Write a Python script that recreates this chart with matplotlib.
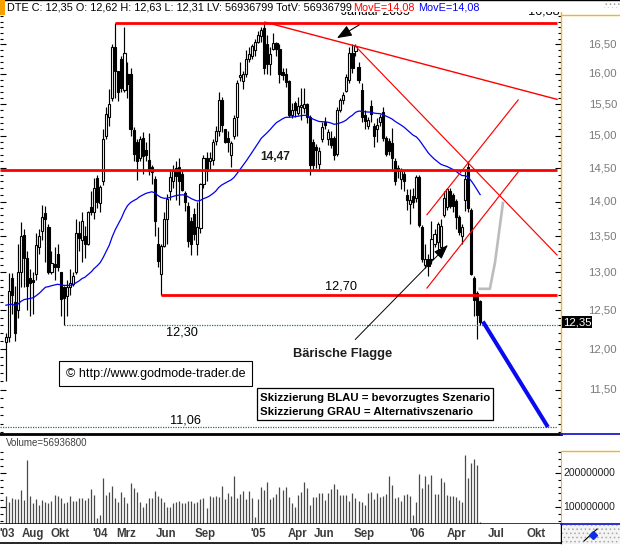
import numpy as np
import pandas as pd
import matplotlib
matplotlib.use("Agg")
import matplotlib.pyplot as plt
import matplotlib.transforms as mtrans
from matplotlib.patches import Rectangle
from matplotlib.lines import Line2D
from matplotlib.ticker import FixedLocator, NullFormatter

plt.rcParams["font.family"] = ["Liberation Sans", "DejaVu Sans"]
plt.rcParams["hatch.linewidth"] = 0.6

# ---------------- data: DTE weekly candles ----------------
first_week = "2003-05-30"

opens = [12.09, 12.15, 12.92, 12.60, 12.50, 13.00, 13.52, 13.20, 12.92, 12.90,
         12.98, 13.35, 13.57, 13.83, 13.64, 13.00, 13.12, 13.25, 13.00, 12.80,
         12.68, 12.80, 12.85, 13.00, 13.55, 13.45, 13.50, 13.40, 13.92, 13.85,
         14.35, 13.98, 14.30, 15.00, 15.30, 15.60, 16.45, 16.05, 16.25, 15.73,
         16.00, 16.00, 15.09, 14.90, 14.65, 14.96, 14.78, 14.63, 14.52, 14.33,
         13.40, 12.98, 13.37, 13.75, 14.16, 14.30, 14.50, 14.52, 14.41, 14.13,
         13.94, 13.72, 13.82, 13.40, 13.62, 14.26, 14.66, 14.60, 14.62, 14.92,
         15.07, 15.57, 15.10, 14.97, 14.70, 15.00, 15.30, 15.95, 15.88, 16.00,
         16.25, 16.30, 16.40, 16.55, 16.64, 16.78, 16.50, 16.17, 16.43, 16.52,
         16.43, 16.03, 16.00, 15.89, 15.33, 15.52, 15.36, 15.46, 15.44, 15.50,
         15.30, 14.90, 14.83, 14.56, 14.94, 15.22, 14.94, 14.97, 14.97, 14.72,
         15.41, 15.57, 15.72, 15.90, 16.36, 16.38, 16.12, 15.73, 15.33, 15.15,
         15.48, 15.15, 15.10, 15.22, 15.38, 14.96, 14.92, 14.89, 14.60, 14.50,
         14.33, 14.41, 14.10, 13.97, 14.08, 14.06, 14.37, 13.64, 13.10, 13.19,
         13.19, 13.40, 13.42, 13.35, 13.80, 13.92, 14.16, 14.10, 14.01, 13.77,
         13.50, 14.02, 14.52, 13.88, 12.93, 12.73, 12.62]
highs = [12.20, 12.99, 12.99, 12.82, 13.40, 13.70, 13.60, 13.30, 13.05, 13.00,
         13.55, 13.60, 13.95, 13.93, 13.68, 13.30, 13.35, 13.40, 13.00, 12.82,
         12.90, 13.05, 13.00, 13.75, 13.72, 13.85, 13.65, 13.87, 14.15, 14.35,
         14.40, 14.25, 15.10, 15.45, 15.75, 16.50, 16.88, 16.05, 16.30, 16.80,
         16.20, 16.10, 15.14, 14.95, 15.00, 15.05, 14.90, 15.04, 14.55, 14.38,
         13.64, 13.40, 13.85, 14.11, 14.45, 14.55, 14.60, 14.65, 14.45, 14.16,
         14.00, 13.78, 13.90, 14.00, 14.28, 14.70, 14.75, 14.75, 14.95, 15.15,
         15.70, 15.62, 15.10, 15.07, 14.92, 15.32, 15.90, 16.20, 16.05, 16.40,
         16.45, 16.50, 16.60, 16.74, 16.80, 16.88, 16.66, 16.45, 16.70, 16.55,
         16.50, 16.10, 16.10, 15.90, 15.52, 15.56, 15.62, 15.76, 15.77, 15.52,
         15.33, 14.95, 14.87, 14.82, 15.22, 15.30, 15.10, 15.07, 14.99, 15.45,
         15.60, 15.70, 16.00, 16.45, 16.50, 16.50, 16.20, 15.85, 15.40, 15.30,
         15.57, 15.20, 15.28, 15.35, 15.45, 15.00, 14.97, 15.12, 14.65, 14.55,
         14.50, 14.45, 14.18, 14.18, 14.20, 14.40, 14.40, 13.66, 13.40, 13.26,
         13.72, 13.60, 13.70, 13.75, 14.16, 14.20, 14.20, 14.12, 14.04, 13.80,
         13.68, 14.45, 14.60, 13.90, 12.95, 12.75, 12.63]
lows = [11.60, 12.09, 12.45, 12.10, 12.40, 12.80, 12.80, 12.50, 12.42, 12.45,
        12.90, 13.25, 13.45, 13.15, 12.98, 12.98, 12.90, 13.02, 12.42, 12.30,
        12.42, 12.70, 12.82, 12.98, 13.30, 13.15, 13.20, 13.38, 13.80, 13.75,
        13.90, 13.85, 14.25, 14.95, 15.15, 15.55, 15.60, 15.55, 15.70, 15.70,
        15.60, 15.00, 14.60, 14.32, 14.60, 14.41, 14.60, 14.40, 14.26, 13.50,
        13.08, 12.70, 13.35, 13.40, 14.02, 14.20, 14.02, 13.95, 14.15, 13.87,
        13.35, 13.24, 13.45, 13.24, 13.55, 14.20, 14.30, 14.45, 14.55, 14.85,
        15.00, 15.05, 14.88, 14.75, 14.52, 14.95, 15.00, 15.88, 15.75, 15.95,
        16.20, 16.25, 16.30, 16.52, 16.55, 16.00, 16.00, 15.98, 16.40, 16.30,
        15.85, 15.90, 15.78, 15.30, 15.28, 15.30, 15.33, 15.25, 15.36, 15.20,
        14.40, 14.47, 14.50, 14.45, 14.90, 15.10, 14.85, 14.80, 14.63, 14.68,
        15.38, 15.50, 15.70, 15.85, 16.02, 16.30, 15.85, 15.22, 15.10, 15.10,
        15.22, 14.82, 14.90, 15.15, 14.92, 14.68, 14.70, 14.45, 14.25, 14.35,
        14.18, 14.15, 13.88, 13.68, 13.90, 14.00, 13.63, 13.14, 13.06, 12.95,
        13.12, 13.35, 13.30, 13.30, 13.78, 13.88, 13.90, 13.85, 13.60, 13.52,
        13.40, 13.87, 13.85, 12.96, 12.42, 12.13, 12.31]
closes = [12.15, 12.75, 12.70, 12.20, 13.00, 13.50, 13.20, 12.82, 12.86, 12.87,
          13.38, 13.50, 13.77, 13.75, 13.00, 13.13, 13.07, 13.07, 12.65, 12.66,
          12.80, 12.86, 12.95, 13.55, 13.48, 13.72, 13.40, 13.85, 13.85, 14.20,
          14.00, 14.22, 14.95, 15.35, 15.50, 16.45, 16.05, 15.70, 15.77, 16.36,
          15.83, 15.10, 14.71, 14.60, 14.94, 14.68, 14.70, 14.45, 14.44, 13.72,
          13.16, 13.36, 13.75, 14.04, 14.36, 14.45, 14.38, 14.30, 14.17, 14.00,
          13.44, 13.40, 13.54, 13.64, 14.26, 14.66, 14.45, 14.65, 14.90, 15.07,
          15.57, 15.17, 14.90, 14.90, 14.88, 15.28, 15.85, 15.99, 16.00, 16.25,
          16.33, 16.48, 16.54, 16.66, 16.75, 16.10, 16.17, 16.34, 16.53, 16.43,
          16.00, 15.98, 15.86, 15.33, 15.41, 15.40, 15.48, 15.49, 15.51, 15.30,
          14.55, 14.55, 14.77, 14.76, 15.14, 15.16, 15.06, 14.86, 14.70, 15.41,
          15.57, 15.65, 15.95, 16.36, 16.10, 16.48, 15.90, 15.30, 15.23, 15.24,
          15.35, 15.00, 15.17, 15.30, 14.96, 14.72, 14.76, 14.65, 14.30, 14.45,
          14.45, 14.30, 14.03, 14.02, 14.00, 14.37, 13.66, 13.18, 13.19, 13.09,
          13.47, 13.54, 13.68, 13.65, 14.06, 14.18, 13.93, 13.93, 13.78, 13.56,
          13.64, 14.33, 13.90, 12.98, 12.63, 12.44, 12.35]
# weekly volume in millions of shares
volume_mio = [133, 116, 126, 124, 124, 150, 121, 237, 133, 112,
              124, 107, 121, 116, 113, 119, 136, 133, 128, 113,
              114, 133, 118, 118, 126, 126, 121, 126, 152, 136,
              68, 78, 184, 136, 145, 162, 126, 116, 143, 131,
              113, 169, 155, 145, 116, 102, 112, 126, 128, 147,
              133, 126, 116, 102, 100, 112, 116, 119, 112, 113,
              119, 119, 112, 114, 123, 126, 97, 133, 131, 133,
              131, 162, 123, 140, 133, 189, 126, 138, 147, 123,
              147, 126, 71, 124, 160, 150, 172, 124, 131, 138,
              160, 150, 158, 131, 113, 100, 136, 145, 172, 155,
              107, 131, 131, 140, 140, 121, 140, 152, 166, 152,
              136, 136, 136, 119, 142, 126, 119, 116, 107, 142,
              145, 123, 140, 131, 134, 138, 189, 164, 126, 131,
              119, 136, 138, 134, 78, 116, 195, 155, 189, 167,
              193, 138, 138, 184, 174, 136, 134, 134, 131, 121,
              116, 251, 184, 227, 239, 222, 56.94]

# exponential moving average (MovE)
ema_span = 50
ema_seed = 12.58

# marked price levels
level_top = 16.88
level_resist = 14.47
level_flag = 12.70
level_low = 12.30
level_target = 11.06

# trend lines as (week number, price)
trend_long = [(85.2, 16.89), (181.3, 15.58)]
trend_steep = [(114.8, 16.48), (181.3, 13.24)]
flag_upper = [(138.5, 13.81), (168.5, 15.57)]
flag_lower = [(138.5, 12.79), (168.5, 14.44)]
# scenario sketches as (weeks after last candle, price)
scenario_blue = [(0.9, 12.35), (22.3, 11.06)]
scenario_gray = [(-0.1, 12.78), (3.2, 12.78), (4.9, 13.14), (7.5, 13.98)]

month_ticks = ["2003-06-01", "2003-08-01", "2003-10-01", "2004-01-01", "2004-03-01",
               "2004-06-01", "2004-09-01", "2005-01-01", "2005-04-01", "2005-06-01",
               "2005-09-01", "2006-01-01", "2006-04-01", "2006-07-01", "2006-10-01"]
month_labels = ["'03", "Aug", "Okt", "'04", "Mrz", "Jun", "Sep", "'05", "Apr", "Jun",
                "Sep", "'06", "Apr", "Jul", "Okt"]
price_ticks = [11.5, 12.0, 12.5, 13.0, 13.5, 14.0, 14.5, 15.0, 15.5, 16.0, 16.5]
volume_ticks = [100, 200]

header_text = "DTE C: 12,35 O: 12,62 H: 12,63 L: 12,31 LV: 56936799 TotV: 56936799"
header_ma = "MovE=14,08"
volume_text = "Volume=56936800"
last_close_text = "12,35"

# ---------------- layout helpers (pixel coordinates, origin top-left) ----------------
W, H = 620, 545
fig = plt.figure(figsize=(W / 100, H / 100), dpi=100)
fig.patch.set_facecolor("white")


def fx(x):
    return x / W


def fy(y):
    return 1 - y / H


def fp(x, y):
    return (fx(x), fy(y))


n = len(closes)
idx = np.arange(n)
o = np.array(opens)
c = np.array(closes)
week0 = pd.Timestamp(first_week)


def week_pos(d):
    return (pd.Timestamp(d) - week0).days / 7.0


XL = (-1.94, 182.6)
YL = (10.98, 17.07)
ORANGE = "#f0b428"
RED = "#ff0000"

# ---------------- price panel ----------------
ax = fig.add_axes([0, fy(434), fx(561), (434 - 12) / H])
ax.set_yscale("log")
ax.set_ylim(*YL)
ax.set_xlim(*XL)
ax.set_xticks([])

body_col = ["white" if cc >= oo else "black" for oo, cc in zip(o, c)]
ax.vlines(idx, lows, highs, color="black", lw=0.85, zorder=2)
ax.bar(idx, np.abs(c - o), bottom=np.minimum(o, c), width=0.7, color=body_col,
       edgecolor="black", linewidth=0.8, zorder=3)

alpha = 2.0 / (ema_span + 1)
ema = np.empty(n)
prev = ema_seed
for i, v in enumerate(c):
    prev = prev + alpha * (v - prev)
    ema[i] = prev
ax.plot(idx, ema, color="#0000f0", lw=0.9, zorder=4)

# labels at the panel top, half hidden under the header bar
ax.text(121.7, YL[1], "Januar 2005", ha="center", va="center", fontsize=8.9,
        color="black", clip_on=True, zorder=9)
ax.text(182.2, YL[1], "16,88", ha="right", va="center", fontsize=9.2,
        color="black", clip_on=True, zorder=9)

x_end = 181.3
ax.plot([36, x_end], [level_top] * 2, color=RED, lw=2.0, zorder=6, solid_capstyle="butt")
ax.plot([XL[0], x_end], [level_resist] * 2, color=RED, lw=2.0, zorder=6, solid_capstyle="butt")
ax.plot([51, x_end], [level_flag] * 2, color=RED, lw=2.0, zorder=6, solid_capstyle="butt")
ax.plot([19, x_end], [level_low] * 2, color="#207070", lw=0.9, ls=(0, (1, 1)), zorder=5)
ax.plot([XL[0], x_end], [level_target] * 2, color="#207070", lw=0.9, ls=(0, (1, 1)), zorder=5)

for seg, lw in ((trend_long, 1.0), (trend_steep, 0.85), (flag_upper, 0.85), (flag_lower, 0.85)):
    ax.plot([p[0] for p in seg], [p[1] for p in seg], color=RED, lw=lw, zorder=6)

last = idx[-1]
ax.plot([last + p[0] for p in scenario_gray], [p[1] for p in scenario_gray],
        color="#bcbcbc", lw=1.9, zorder=6, solid_joinstyle="round")
ax.plot([last + p[0] for p in scenario_blue], [p[1] for p in scenario_blue],
        color="#0a0af0", lw=2.9, zorder=7, solid_capstyle="butt")

ax.annotate("", xy=(108.9, 16.61), xytext=(116.2, 16.84),
            arrowprops=dict(arrowstyle="-|>,head_length=0.9,head_width=0.35",
                            color="black", lw=0.8, shrinkA=0, shrinkB=0), zorder=8)
ax.annotate("", xy=(145.4, 13.38), xytext=(114.9, 12.12),
            arrowprops=dict(arrowstyle="-|>,head_length=0.9,head_width=0.32",
                            color="black", lw=0.7, shrinkA=0, shrinkB=0), zorder=8)

minor_prices = [round(v, 1) for v in np.arange(11.0, 17.05, 0.1) if round(v, 1) not in price_ticks]
ax.yaxis.set_major_locator(FixedLocator(price_ticks))
ax.yaxis.set_minor_locator(FixedLocator(minor_prices))
ax.yaxis.set_major_formatter(NullFormatter())
ax.yaxis.set_minor_formatter(NullFormatter())
ax.tick_params(axis="y", which="both", direction="in", left=True, right=True,
               labelleft=False, labelright=False, color="black", width=0.8)
ax.tick_params(axis="y", which="major", length=4)
ax.tick_params(axis="y", which="minor", length=2.5)
ax.tick_params(axis="x", which="both", bottom=False, top=False)
for s in ("top", "left"):
    ax.spines[s].set_visible(False)
ax.spines["right"].set_color(ORANGE)
ax.spines["right"].set_linewidth(1.0)
ax.spines["bottom"].set_color("black")
ax.spines["bottom"].set_linewidth(2.0)

ytr = mtrans.blended_transform_factory(fig.transFigure, ax.transData)
for p in price_ticks:
    ax.text(fx(617), p, f"{p:.2f}".replace(".", ","), transform=ytr, ha="right",
            va="center", color="#7a7a7a", fontsize=8.2, clip_on=False)

# ---------------- volume panel ----------------
av = fig.add_axes([0, fy(524), fx(561), (524 - 436) / H])
vol_lo, vol_hi = 51.7, 306.0
av.set_ylim(vol_lo, vol_hi)
av.set_xlim(*XL)
av.vlines(idx, vol_lo, volume_mio, color="#4a4a4a", lw=0.9)
av.set_xticks([])
av.yaxis.set_major_locator(FixedLocator(volume_ticks))
av.yaxis.set_minor_locator(FixedLocator([60, 80, 120, 140, 160, 180, 220, 240, 260]))
av.yaxis.set_major_formatter(NullFormatter())
av.yaxis.set_minor_formatter(NullFormatter())
av.tick_params(axis="y", which="both", direction="in", left=True, right=True,
               labelleft=False, labelright=False, color="black", width=0.8)
av.tick_params(axis="y", which="major", length=4)
av.tick_params(axis="y", which="minor", length=2.5)
for s in ("top", "left"):
    av.spines[s].set_visible(False)
av.spines["right"].set_color(ORANGE)
av.spines["right"].set_bounds(vol_lo, 262.7)
av.spines["bottom"].set_color("black")
av.spines["bottom"].set_linewidth(1.8)
vtr = mtrans.blended_transform_factory(fig.transFigure, av.transData)
for v in volume_ticks:
    av.text(fx(563), v, f"{int(v * 1e6)}", transform=vtr, ha="left", va="center",
            color="#202020", fontsize=7.5, clip_on=False)

# ---------------- date strip ----------------
axx = fig.add_axes([0, fy(543), fx(561), (543 - 524) / H])
axx.set_xlim(*XL)
axx.set_ylim(0, 1)
axx.set_xticks([])
axx.set_yticks([])
for s in ("top", "left"):
    axx.spines[s].set_visible(False)
axx.spines["bottom"].set_linewidth(1.2)
axx.spines["right"].set_linewidth(1.0)
for d, lab in zip(month_ticks, month_labels):
    axx.text(week_pos(d), 0.45, lab, ha="center", va="center", fontweight="bold",
             fontsize=8.3, color="#3c3c3c")

# ---------------- frame decorations ----------------
fig.add_artist(Line2D([fx(561), 1], [fy(15), fy(15)], color=ORANGE, lw=1.0))
fig.add_artist(Line2D([fx(561), 1], [fy(434), fy(434)], color="#1c1cc8", lw=1.3))
fig.add_artist(Line2D([fx(561), 1], [fy(451), fy(451)], color=ORANGE, lw=1.0))
fig.add_artist(Line2D([fx(561), 1], [fy(524), fy(524)], color="#1c1cc8", lw=1.3))
fig.add_artist(Rectangle(fp(562, 544), fx(58), 19 / H, transform=fig.transFigure,
                         facecolor="#f4f4f4", edgecolor="#a8a8a8", hatch="....", lw=0))
fig.add_artist(Line2D([fx(584), fx(597)], [fy(541), fy(529)], color="black", lw=0.8))
fig.add_artist(Line2D([fx(593)], [fy(535)], marker="D", ms=4.5, color="#1030e0", lw=0))

# price label box for the last close
fig.add_artist(Rectangle(fp(562, 328), fx(30), 12 / H, transform=fig.transFigure,
                         facecolor="black", edgecolor="none", zorder=2))
fig.text(*fp(577, 322.5), last_close_text, color="white", fontsize=8.2, ha="center", va="center")

fig.text(*fp(6, 443.5), volume_text, color="#404040", fontsize=7.0, ha="left", va="center")

# ---------------- chart annotations ----------------
fig.text(*fp(275, 157.5), "14,47", ha="center", va="center", fontweight="bold",
         fontsize=8.6, color="#1e1e1e")
fig.text(*fp(341, 286.5), "12,70", ha="center", va="center", fontsize=9.2, color="black")
fig.text(*fp(181.5, 332.5), "12,30", ha="center", va="center", fontsize=9.2, color="black")
fig.text(*fp(185, 420.5), "11,06", ha="center", va="center", fontsize=9.2, color="black")
fig.text(*fp(343, 353.5), "Bärische Flagge", ha="center", va="center", fontweight="bold",
         fontsize=9.3, color="#1e1e1e")

fig.add_artist(Rectangle(fp(59, 386), fx(193), 25 / H, transform=fig.transFigure,
                         facecolor="white", edgecolor="black", lw=0.8, zorder=2))
fig.text(*fp(155.5, 374), "\u00a9 http://www.godmode-trader.de", ha="center", va="center",
         fontsize=9.0, color="black")
fig.add_artist(Rectangle(fp(257, 420), fx(236), 32 / H, transform=fig.transFigure,
                         facecolor="white", edgecolor="black", lw=0.9, zorder=2))
fig.text(*fp(260, 398), "Skizzierung BLAU = bevorzugtes Szenario", ha="left", va="center",
         fontweight="bold", fontsize=8.2, color="black")
fig.text(*fp(260, 412), "Skizzierung GRAU = Alternativszenario", ha="left", va="center",
         fontweight="bold", fontsize=8.2, color="black")

# ---------------- header line ----------------
hd = fig.add_axes([0, fy(12), 1, 12 / H], zorder=10)
hd.set_facecolor("white")
hd.set_xticks([])
hd.set_yticks([])
for s in ("bottom", "left", "right"):
    hd.spines[s].set_visible(False)
hd.spines["top"].set_linewidth(1.0)
hd.text(fx(7), fy(10), header_text, transform=fig.transFigure, va="baseline",
        fontsize=7.8, color="black")
hd.text(fx(353), fy(10), header_ma, transform=fig.transFigure, va="baseline",
        fontsize=7.8, color="#ff0000")
hd.text(fx(418), fy(10), header_ma, transform=fig.transFigure, va="baseline",
        fontsize=7.8, color="#0000ff")
fig.add_artist(Rectangle(fp(0, 15), fx(5), 15 / H, transform=fig.transFigure,
                         facecolor="#f5a000", edgecolor="none", zorder=11))
fig.add_artist(Rectangle(fp(604, 8), fx(16), 6 / H, transform=fig.transFigure,
                         facecolor="white", edgecolor="#a0a0a0", hatch="....", lw=0, zorder=11))

fig.savefig("out.png", dpi=100, facecolor="white")
